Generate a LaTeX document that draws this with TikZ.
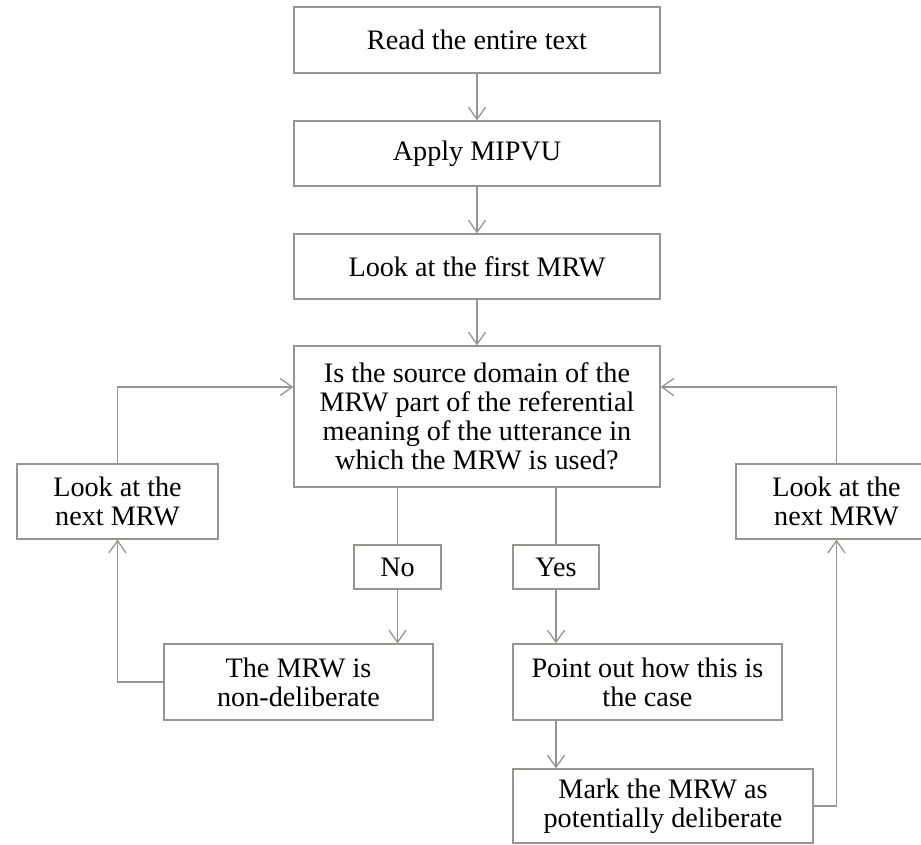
\documentclass[tikz,border=0pt]{standalone}
\usepackage{fontspec}
\setmainfont{Liberation Serif}
\usetikzlibrary{arrows.meta,calc}
\definecolor{linegray}{RGB}{152,148,144}
\begin{document}
\begin{tikzpicture}[x=0.5pt,y=-0.5pt,line width=0.65pt,
    box/.style={draw=linegray, align=center, inner sep=0pt, font=\fontsize{14.1}{14.5}\selectfont},
    arr/.style={draw=linegray, -{Straight Barb[length=6pt,width=8.5pt]}},
    ln/.style={draw=linegray}]
    \useasboundingbox (0,0) rectangle (921,845);
    \node[box, minimum width=183pt, minimum height=33pt] (read) at (477,40) {Read the entire text};
    \node[box, minimum width=183pt, minimum height=32.5pt] (apply) at (477,153.5) {Apply MIPVU};
    \node[box, minimum width=183pt, minimum height=32.5pt] (first) at (477,266.5) {Look at the first MRW};
    \node[box, minimum width=183pt, minimum height=70.5pt] (ask) at (477,416.5) {Is the source domain of the\\MRW part of the referential\\meaning of the utterance in\\which the MRW is used?};
    \node[box, minimum width=100.5pt, minimum height=37.5pt] (nextL) at (117.5,501.5) {Look at the\\next MRW};
    \node[box, minimum width=100.5pt, minimum height=37.5pt] (nextR) at (836.5,501.5) {Look at the\\next MRW};
    \node[box, minimum width=43.5pt, minimum height=22pt] (no) at (397.5,567) {No};
    \node[box, minimum width=43pt, minimum height=22pt] (yes) at (556,567) {Yes};
    \node[box, minimum width=134.5pt, minimum height=38pt] (nondel) at (298.5,682) {The MRW is\\non-deliberate};
    \node[box, minimum width=134.5pt, minimum height=38pt] (point) at (647.5,682) {Point out how this is\\the case};
    \node[box, minimum width=150pt, minimum height=37pt] (mark) at (663,806) {Mark the MRW as\\potentially deliberate};

    \foreach \a/\b in {read/apply,apply/first,first/ask}
        \draw[arr] (\a) -- (\b);
    \draw[ln] (ask.south -| no) -- (no);
    \draw[ln] (ask.south -| yes) -- (yes);
    \draw[arr] (no) -- (no |- nondel.north);
    \draw[arr] (yes) -- (yes |- point.north);
    \draw[arr] (point.south -| yes) -- (mark.north -| yes);
    \draw[arr] (nondel.west) -| (nextL.south);
    \draw[arr] (mark.east) -| (nextR.south);
    \draw[arr] (nextL.north) |- ($(ask.west)+(0,-29.5)$);
    \draw[arr] (nextR.north) |- ($(ask.east)+(0,-29.5)$);
\end{tikzpicture}
\end{document}
